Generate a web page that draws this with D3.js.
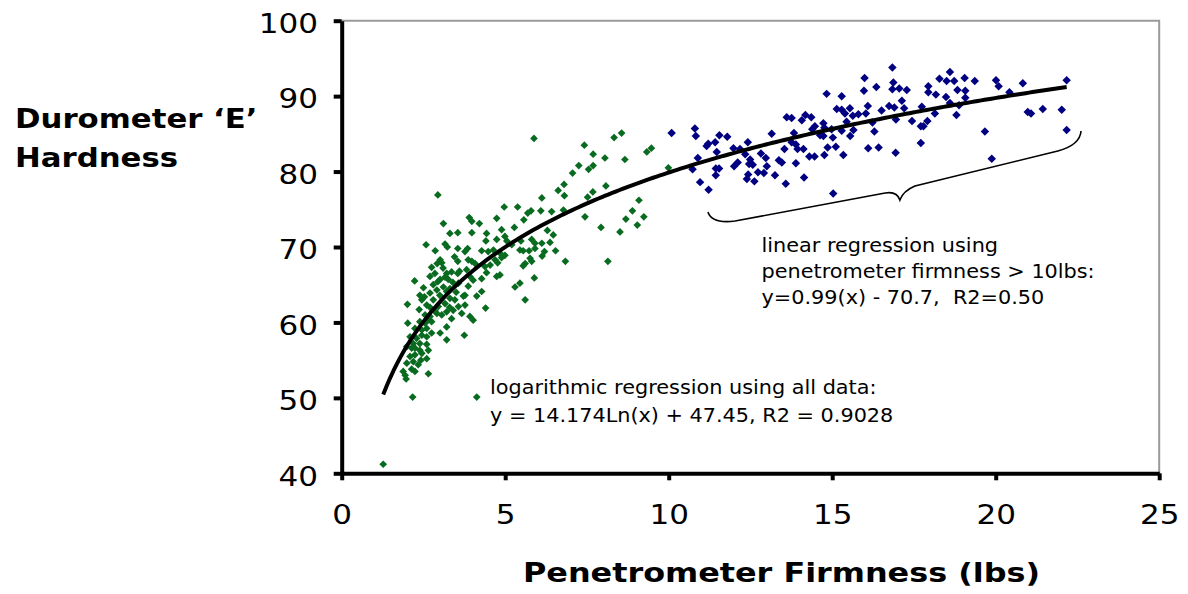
<!DOCTYPE html>
<html>
<head>
<meta charset="utf-8">
<script src="https://cdn.jsdelivr.net/npm/d3@7"></script>
<style>
  html, body { margin: 0; padding: 0; background: #ffffff; }
  svg { display: block; }
  text { white-space: pre; }
</style>
</head>
<body>
<script>
// ---------------- DATA ----------------
const xTicks = [0, 5, 10, 15, 20, 25];
const yTicks = [40, 50, 60, 70, 80, 90, 100];
const xTitle = "Penetrometer Firmness (lbs)";
const yTitleLines = ["Durometer \u2018E\u2019", "Hardness"];
const linearNote = ["linear regression using", "penetrometer firmness > 10lbs:", "y=0.99(x) - 70.7,  R2=0.50"];
const logNote = ["logarithmic regression using all data:", "y = 14.174Ln(x) + 47.45, R2 = 0.9028"];

// green series: penetrometer firmness <= 10 lbs
const greenX = [1.27,2.17,4.13,5.88,2.94,8.33,8.56,7.42,7.69,8.05,8.66,9.33,9.47,7.25,7.06,7.55,7.69,6.80,6.62,6.81,8.08,7.52,7.68,9.09,8.89,8.69,9.24,9.04,8.51,7.93,7.44,6.78,6.84,8.14,9.99,6.12,4.97,5.38,5.79,5.69,6.09,6.42,3.90,3.98,4.21,4.74,5.57,3.55,3.98,4.43,4.89,5.28,6.29,6.47,4.41,4.74,4.99,5.05,5.48,5.81,5.91,6.12,6.37,3.55,3.85,3.77,4.28,4.48,4.64,4.84,4.99,5.20,5.45,5.55,5.73,5.91,6.20,6.13,6.54,5.76,5.81,5.61,5.55,3.55,3.87,3.98,4.08,4.38,4.54,4.69,4.77,4.89,5.89,3.55,3.82,3.92,4.02,4.43,4.74,4.84,5.30,5.45,3.57,3.87,4.28,3.77,4.13,5.61,4.40,3.67,3.92,3.75,4.02,4.28,3.11,3.31,2.58,2.86,3.16,3.23,3.01,3.06,2.92,2.75,2.85,2.70,3.21,3.36,3.16,2.23,2.94,3.01,3.26,2.39,2.53,2.70,2.91,3.11,3.21,3.31,2.01,2.37,2.02,3.72,3.77,3.57,3.41,3.21,3.06,2.91,2.70,2.65,3.36,3.21,3.01,3.21,2.39,2.55,2.75,2.24,2.45,2.60,2.09,2.29,2.19,2.45,2.60,2.75,1.99,2.14,2.39,2.60,2.65,2.39,2.09,1.99,2.19,2.34,2.14,2.24,1.88,1.97,2.65,2.24,2.45,1.94,2.24,2.42,2.60,2.45,2.60,2.80,2.95,3.16,3.31,3.46,2.50,2.80,3.00,3.40,3.50,2.70,3.30,2.85,3.60,3.45,3.10,2.55];
const greenY = [41.2,50.1,50.1,84.4,76.9,84.5,85.1,83.5,82.3,81.8,81.6,82.6,83.1,80.8,79.8,80.3,80.8,78.3,77.5,76.8,78.1,76.6,77.3,76.2,74.8,73.7,74.0,72.9,72.0,72.6,74.0,74.9,68.1,68.1,80.5,76.5,75.3,75.3,74.8,74.5,74.8,74.7,73.9,73.4,73.1,73.8,73.6,71.9,71.9,71.8,72.3,72.6,72.2,71.6,70.8,71.0,71.4,70.8,70.8,71.0,70.5,70.5,70.6,69.8,69.8,69.4,69.5,69.4,69.6,69.2,68.9,70.3,69.6,69.5,69.5,69.8,69.4,68.8,69.5,68.5,68.1,67.8,67.5,68.1,68.3,68.1,67.8,67.4,67.6,68.3,67.9,68.6,65.9,66.5,67.0,66.1,65.6,66.6,66.1,66.3,64.7,65.2,65.2,64.8,64.1,63.6,63.5,63.0,61.9,61.2,60.8,58.3,60.3,65.8,73.1,71.8,70.3,69.5,70.4,70.0,68.3,67.9,67.8,67.3,66.5,66.1,66.5,66.7,66.0,65.5,65.4,65.7,65.7,63.6,63.4,63.9,64.3,64.7,64.1,64.5,62.4,61.7,59.9,63.5,62.3,62.1,61.6,61.4,61.0,61.2,60.8,60.4,60.5,59.4,58.6,57.7,60.1,59.9,60.1,59.2,59.0,59.2,58.1,57.9,57.2,58.3,58.1,58.6,56.8,56.6,57.2,57.1,56.3,56.3,55.5,54.6,54.8,54.4,53.8,53.5,53.5,52.5,53.2,55.7,55.9,53.0,56.6,55.0,55.2,63.0,62.3,63.0,62.1,62.5,63.2,63.0,64.6,65.0,63.6,65.3,64.0,62.0,62.0,61.5,66.8,68.7,67.2,61.0];

// blue series: penetrometer firmness > 10 lbs
const blueX = [10.09,10.80,10.83,11.55,11.79,11.16,11.21,11.42,11.47,10.89,10.73,10.96,11.22,11.44,11.54,11.44,11.98,12.18,12.42,12.34,12.11,12.00,12.49,12.46,12.57,12.43,12.39,12.62,12.73,12.91,12.82,12.97,13.00,13.15,13.25,13.37,13.46,13.58,13.54,13.61,13.76,13.83,13.76,13.89,13.94,14.12,13.89,14.14,14.07,14.18,14.36,14.30,14.46,14.39,14.47,14.73,14.76,14.63,14.73,14.83,15.02,14.86,14.76,15.11,15.34,15.14,15.29,15.39,15.54,15.63,15.80,15.29,14.98,15.29,15.55,15.65,15.99,15.97,16.35,16.09,16.03,16.23,16.29,16.10,16.42,15.03,15.44,16.84,16.84,16.87,17.05,17.28,17.13,16.74,16.90,17.20,16.51,16.95,16.94,17.44,17.74,17.91,17.71,17.79,17.71,17.94,17.94,18.17,18.28,18.50,18.60,18.73,18.83,18.48,18.60,18.88,19.05,19.07,19.07,19.36,18.14,18.80,20.01,20.09,20.42,20.83,19.67,19.88,20.98,21.08,21.44,22.02,22.17,22.17];
const blueY = [85.1,85.7,84.7,84.8,84.6,83.4,83.7,83.9,82.6,81.8,80.3,78.6,77.6,80.4,80.4,79.5,83.1,83.0,83.9,82.3,81.2,80.7,81.6,81.0,80.9,79.6,79.0,78.7,79.9,79.8,82.4,81.8,80.7,85.0,79.5,81.5,81.2,78.4,83.0,87.2,87.1,85.1,83.9,83.6,83.0,83.0,81.1,79.2,86.8,87.5,87.2,82.0,82.0,85.6,86.0,86.4,85.8,84.8,84.7,90.3,84.5,83.2,82.2,83.3,82.2,88.3,88.2,87.7,88.4,87.4,87.6,90.0,85.6,85.4,84.7,85.5,92.4,90.7,91.2,88.7,87.7,86.5,85.3,83.1,83.2,77.1,86.6,93.8,90.9,91.8,91.0,90.8,89.4,88.7,88.5,88.4,88.1,86.9,82.5,86.7,88.6,86.7,86.0,86.0,83.8,91.3,90.5,90.2,92.3,92.0,93.2,92.0,90.8,89.9,89.1,88.8,92.4,90.7,89.8,92.0,87.7,87.5,92.1,91.3,90.5,91.7,85.3,81.7,87.9,87.7,88.3,88.2,92.1,85.5];

// brace annotation under the >10 lbs group, in data units [x, y]
const braceX = [11.20, 11.32, 12.03, 16.62, 16.98, 17.07, 17.17, 17.53, 21.90, 22.58, 22.61];
const braceY = [74.64, 73.05, 73.45, 77.16, 77.43, 76.24, 77.43, 78.09, 82.73, 83.53, 85.38];

// ---------------- LAYOUT ----------------
const W = 1188, H = 594;
const FONT = "'DejaVu Sans', Verdana, sans-serif";
const STRETCH = 1.15;

const svg = d3.select("body").append("svg").attr("width", W).attr("height", H);

const x = d3.scaleLinear().domain([0, 25]).range([341.7, 1159.2]);
const y = d3.scaleLinear().domain([40, 100]).range([473.3, 20.7]);

// plot frame (top and right, grey)
svg.append("path")
  .attr("d", `M${x(0)},${y(100)}H${x(25)}V${y(40)}`)
  .attr("fill", "none").attr("stroke", "#9a9a9a").attr("stroke-width", 2);

// ---------------- POINTS ----------------
const green = greenX.map((v, i) => ({ x: v, y: greenY[i] }));
const blue = blueX.map((v, i) => ({ x: v, y: blueY[i] }));

const greenSym = d3.symbol().type(d3.symbolSquare).size(7)();
svg.append("g").selectAll("path").data(green).join("path")
  .attr("d", greenSym)
  .attr("transform", d => `translate(${x(d.x)},${y(d.y)}) rotate(45)`)
  .attr("fill", "#b8dcbc").attr("stroke", "#096b1f").attr("stroke-width", 2.8);

const blueSym = d3.symbol().type(d3.symbolSquare).size(36)();
svg.append("g").selectAll("path").data(blue).join("path")
  .attr("d", blueSym)
  .attr("transform", d => `translate(${x(d.x)},${y(d.y)}) rotate(45)`)
  .attr("fill", "#000080");

// ---------------- LOG TRENDLINE (least squares on all points) ----------------
const all = green.concat(blue);
const lx = all.map(d => Math.log(d.x));
const mx = d3.mean(lx), my = d3.mean(all, d => d.y);
let sxy = 0, sxx = 0;
all.forEach((d, i) => { sxy += (lx[i] - mx) * (d.y - my); sxx += (lx[i] - mx) ** 2; });
const slope = sxy / sxx, intercept = my - slope * mx;
const xmin = d3.min(all, d => d.x), xmax = d3.max(all, d => d.x);
const trend = d3.range(0, 201).map(i => {
  const xv = xmin + (xmax - xmin) * i / 200;
  return { x: xv, y: slope * Math.log(xv) + intercept };
});
svg.append("path")
  .datum(trend)
  .attr("d", d3.line().x(d => x(d.x)).y(d => y(d.y)))
  .attr("fill", "none").attr("stroke", "#000").attr("stroke-width", 4)
  .attr("stroke-linejoin", "round");

// ---------------- BRACE ----------------
const bp = braceX.map((v, i) => [x(v), y(braceY[i])]);
const brace = d3.path();
brace.moveTo(bp[0][0], bp[0][1]);
brace.quadraticCurveTo(bp[1][0], bp[1][1], bp[2][0], bp[2][1]);
brace.lineTo(bp[3][0], bp[3][1]);
brace.quadraticCurveTo(bp[4][0], bp[4][1], bp[5][0], bp[5][1]);
brace.quadraticCurveTo(bp[6][0], bp[6][1], bp[7][0], bp[7][1]);
brace.lineTo(bp[8][0], bp[8][1]);
brace.quadraticCurveTo(bp[9][0], bp[9][1], bp[10][0], bp[10][1]);
svg.append("path").attr("d", brace.toString())
  .attr("fill", "none").attr("stroke", "#000").attr("stroke-width", 1.6);

// ---------------- AXES ----------------
const xAxis = svg.append("g").attr("transform", `translate(0,${y(40)})`)
  .call(d3.axisBottom(x).tickValues(xTicks).tickSize(7).tickSizeOuter(0).tickPadding(0));
const yAxis = svg.append("g").attr("transform", `translate(${x(0)},0)`)
  .call(d3.axisLeft(y).tickValues(yTicks).tickSize(8).tickSizeOuter(0).tickPadding(0));

[xAxis, yAxis].forEach(g => {
  g.select(".domain").attr("stroke", "#000").attr("stroke-width", 4);
  g.selectAll(".tick line").attr("stroke", "#000").attr("stroke-width", 4);
  g.selectAll(".tick text").attr("font-family", FONT).attr("font-size", 27).attr("fill", "#000");
});
xAxis.selectAll(".tick text")
  .attr("y", 0).attr("dy", 0)
  .attr("transform", `translate(0,${524 - y(40)}) scale(${STRETCH},1)`);
yAxis.selectAll(".tick text")
  .attr("x", 0).attr("dy", "0.36em")
  .attr("transform", `translate(${318 - x(0)},2) scale(${STRETCH},1)`);

// ---------------- TEXT ----------------
function label(px, py, str, size, weight, sx) {
  svg.append("text")
    .attr("transform", `translate(${px},${py}) scale(${sx},1)`)
    .attr("font-family", FONT).attr("font-size", size).attr("font-weight", weight)
    .attr("fill", "#000").text(str);
}
// axis titles
label(523, 582, xTitle, 27, "bold", 1.18);
label(15, 128, yTitleLines[0], 27, "bold", 1.14);
label(15, 167, yTitleLines[1], 27, "bold", 1.14);

// annotations, anchored in data space
linearNote.forEach((s, i) => label(x(12.84), y(69.07) - 2 + i * 26, s, 20, "normal", 1.04));
logNote.forEach((s, i) => label(x(4.535), y(50.38) - 1 + i * 28, s, 20, "normal", 1.04));
</script>
</body>
</html>
